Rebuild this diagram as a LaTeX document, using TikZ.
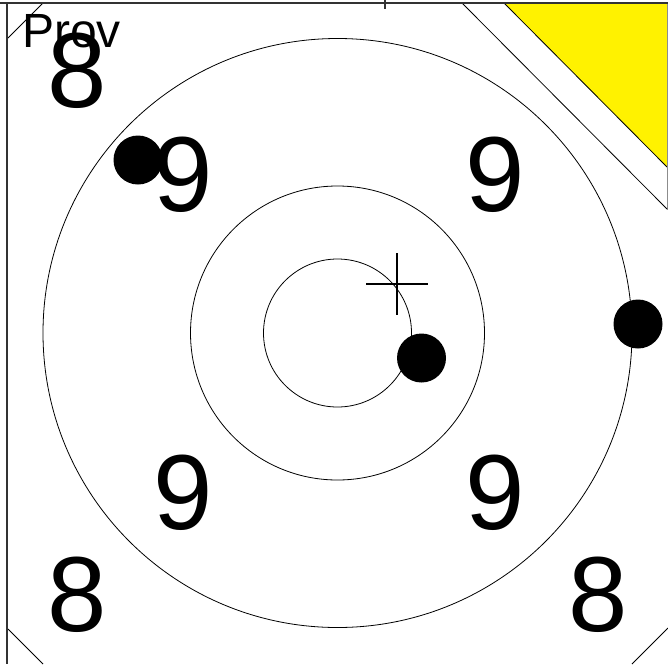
\documentclass[tikz,border=0pt]{standalone}
\usepackage{fontspec}
\setmainfont{Liberation Sans}
\begin{document}
\begin{tikzpicture}[x=1pt,y=-1pt,
  ring/.style={draw=black,line width=0.8pt},
  edge/.style={draw=black,line width=0.8pt},
  frame/.style={draw=black!80,line width=1.6pt},
  big/.style={inner sep=0pt,font=\fontsize{106.7}{110}\selectfont},
  shot/.style={circle,fill=black,inner sep=0pt,minimum size=49pt},
  hole/.style={line width=2.2pt}]
\useasboundingbox (0,0) rectangle (668,664);
% yellow corner
\coordinate (y1) at (504,3);
\coordinate (y2) at (667,167);
\coordinate (y3) at (667,3);
\fill[yellow] (y1) -- (y2) -- (y3) -- cycle;
\draw[edge] (y1) -- (y2);
\draw[draw=black!45,line width=0.8pt] (y3) -- (667,210);
% corner diagonals
\coordinate (d1a) at (462,3);   \coordinate (d1b) at (667,209);
\coordinate (d2a) at (8,38);    \coordinate (d2b) at (43,3);
\coordinate (d3a) at (8,629);   \coordinate (d3b) at (43,664);
\coordinate (d4a) at (632,664); \coordinate (d4b) at (668,628);
\draw[edge] (d1a) -- (d1b);
\draw[edge] (d2a) -- (d2b);
\draw[edge] (d3a) -- (d3b);
\draw[edge] (d4a) -- (d4b);
% rings
\coordinate (c) at (337.5,333);
\draw[ring] (c) circle[radius=74];
\draw[ring] (c) circle[radius=147];
\draw[ring] (c) circle[radius=294.5];
% frame
\coordinate (f1) at (0,3);
\coordinate (f2) at (668,3);
\coordinate (f3) at (7,3);
\coordinate (f4) at (7,664);
\draw[frame] (f1) -- (f2);
\draw[frame] (f3) -- (f4);
\coordinate (t1) at (385,0);
\coordinate (t2) at (385,9);
\draw[frame] (t1) -- (t2);
% labels
\node[anchor=base west,inner sep=0pt,font=\fontsize{48}{50}\selectfont] (prov) at (22,47) {Prov};
\node[big] (n8a) at (77.5,71) {8};
\node[big] (n8b) at (77.5,595) {8};
\node[big] (n8c) at (598.5,595) {8};
\node[big] (n9a) at (183,175) {9};
\node[big] (n9b) at (495,175) {9};
\node[big] (n9c) at (183,493) {9};
\node[big] (n9d) at (495,493) {9};
% shots
\node[shot] (s1) at (138,160) {};
\node[shot] (s2) at (421.5,358) {};
\node[shot] (s3) at (638,324) {};
% cross
\coordinate (h1) at (366,284); \coordinate (h2) at (428,284);
\coordinate (v1) at (397,253); \coordinate (v2) at (397,315);
\draw[hole] (h1) -- (h2);
\draw[hole] (v1) -- (v2);
\end{tikzpicture}
\end{document}
